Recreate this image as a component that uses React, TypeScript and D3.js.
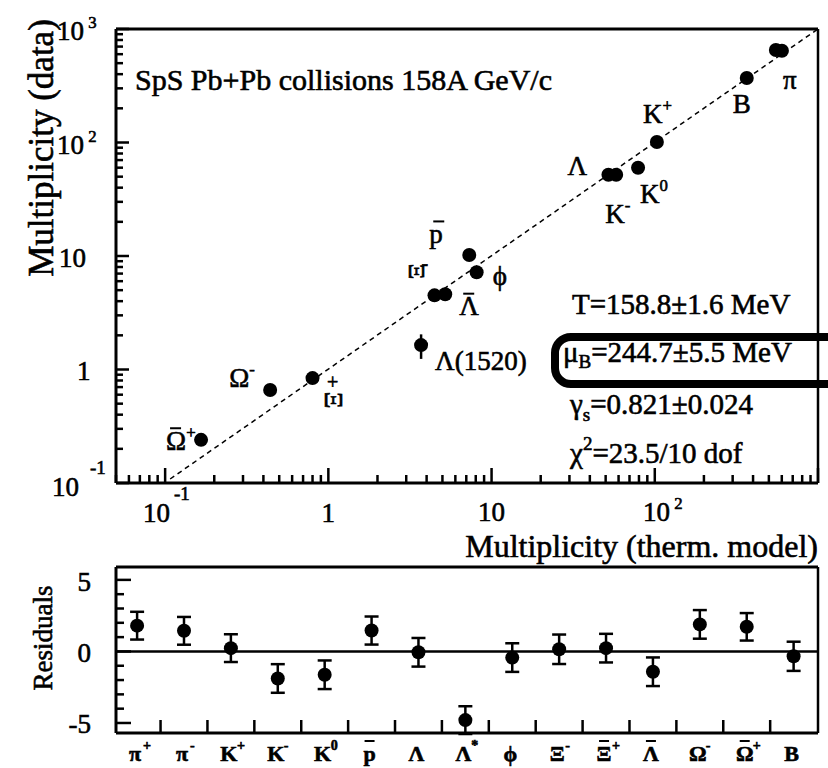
import React from "react";
import * as d3 from "d3";

// particle species, same order in both panels (bar = antiparticle)
const species = ["π", "π", "K", "K", "K", "p", "Λ", "Λ", "ϕ", "Ξ", "Ξ", "Λ", "Ω", "Ω", "B"];
const speciesSup = ["+", "-", "+", "-", "0", "", "", "*", "", "-", "+", "", "-", "+", ""];
const speciesBar = [false, false, false, false, false, true, false, false, false, false, true, true, false, true, false];

// upper panel: thermal model vs measured multiplicity
const modelMult = [552, 601, 103, 58, 79, 7.3, 52, 3.7, 8.1, 4.47, 0.8, 5.2, 0.44, 0.166, 366];
const dataMult = [653, 643, 101, 52, 60, 10.2, 52, 1.64, 7.2, 4.5, 0.84, 4.6, 0.66, 0.24, 370];
const dataErr = [0, 0, 0, 0, 6, 0, 0, 0.4, 0, 0, 0, 0, 0, 0, 0];

// lower panel residuals
const residuals = [1.8, 1.44, 0.23, -1.89, -1.63, 1.46, -0.06, -4.8, -0.43, 0.15, 0.23, -1.42, 1.89, 1.72, -0.34];
const residualErr = [0.97, 0.97, 0.97, 1.0, 1.0, 0.98, 1.0, 0.97, 1.0, 1.03, 1.0, 1.0, 1.0, 0.96, 1.02];

const fitParams = ["T=158.8±1.6 MeV", "=244.7±5.5 MeV", "=0.821±0.024", "=23.5/10 dof"];

const FONT = "'Liberation Serif', 'DejaVu Serif', serif";
// scanned print looks heavy, thicken the glyphs a bit
const INK = { fill: "#000", stroke: "#000", strokeWidth: 0.6 };

// label placement in the upper panel (pixel offsets from the marker)
const labelPos: Record<number, { dx: number; dy: number; text: string; sup?: string; bar?: boolean }> = {
    1: { dx: 1, dy: 38, text: "π" },
    14: { dx: -14, dy: 35, text: "B" },
    2: { dx: -14, dy: -19, text: "K", sup: "+" },
    3: { dx: -11, dy: 48, text: "K", sup: "-" },
    4: { dx: 2, dy: 35, text: "K", sup: "0" },
    6: { dx: -41, dy: 0, text: "Λ" },
    5: { dx: -40, dy: -12, text: "p", bar: true },
    8: { dx: 16, dy: 13, text: "ϕ" },
    11: { dx: 14, dy: 21, text: "Λ", bar: true },
    7: { dx: 14, dy: 25, text: "Λ(1520)" },
    12: { dx: -41, dy: -3, text: "Ω", sup: "-" },
    13: { dx: -35, dy: 10, text: "Ω", sup: "+", bar: true },
};

const App: React.FC = () => {
    const width = 828;
    const height = 768;

    const left = 116;
    const right = 818;

    const x = d3.scaleLog().domain([0.05, 1000]).range([left, right]);
    const y = d3.scaleLog().domain([0.1, 1000]).range([483, 29]);

    const xr = d3.scaleLinear().domain([-0.45, 14.52]).range([left, right]);
    const yr = d3.scaleLinear().domain([-5.7, 5.9]).range([733, 567]);

    // log ticks
    const logTicks = (lo: number, hi: number) => {
        const out: { v: number; major: boolean }[] = [];
        for (let e = -2; e <= 3; e++) {
            for (let m = 1; m <= 9; m++) {
                const v = m * Math.pow(10, e);
                if (v >= lo * 0.999 && v <= hi * 1.001) out.push({ v, major: m === 1 });
            }
        }
        return out;
    };
    const xTicks = logTicks(0.05, 1000);
    const yTicks = logTicks(0.1, 1000);

    const diag = [0.1, 1000];

    const supText = (base: string, sup: string, size: number) => (
        <>
            {base}
            <tspan dy={-size * 0.45} fontSize={size * 0.62}>{sup}</tspan>
        </>
    );

    const lbl = 27;

    return (
        <svg
            width={width}
            height={height}
            style={{ position: "absolute", left: 0, top: 0, background: "#fff", fontFamily: FONT }}
        >
            {/* ===== upper panel ===== */}
            <line x1={left} x2={right} y1={29} y2={29} stroke="#000" strokeWidth={3} />
            <line x1={right} x2={right} y1={29} y2={483} stroke="#000" strokeWidth={2.5} />
            <line x1={left} x2={left} y1={29} y2={483} stroke="#000" strokeWidth={3} />
            <line x1={left} x2={right} y1={483} y2={483} stroke="#000" strokeWidth={3} />

            {yTicks.map((t, i) => (
                <line key={"yt" + i} x1={left} x2={left + (t.major ? 13 : 7)} y1={y(t.v)} y2={y(t.v)} stroke="#000" strokeWidth={2.5} />
            ))}
            {xTicks.map((t, i) => (
                <line key={"xt" + i} x1={x(t.v)} x2={x(t.v)} y1={483} y2={483 - (t.major ? 15 : 8)} stroke="#000" strokeWidth={2.5} />
            ))}

            {/* y tick labels */}
            <g fontSize={27} {...INK}>
                <text x={57} y={40}>{supText("10", " 3", 27)}</text>
                <text x={57} y={154}>{supText("10", " 2", 27)}</text>
                <text x={59} y={267}>10</text>
                <text x={77} y={380}>1</text>
                <text x={90} y={474} fontSize={19}>-1</text>
                <text x={52} y={496}>10</text>
            </g>
            {/* x tick labels */}
            <g fontSize={27} {...INK}>
                <text x={143} y={522}>10</text>
                <text x={174} y={500} fontSize={19}>-1</text>
                <text x={x(1)} y={522} textAnchor="middle">1</text>
                <text x={x(10)} y={521} textAnchor="middle">10</text>
                <text x={643} y={521}>{supText("10", " 2", 27)}</text>
            </g>

            {/* axis titles */}
            <text transform="translate(53,148) rotate(-90)" textAnchor="middle" fontSize={35} {...INK}>
                Multiplicity (data)
            </text>
            <text x={818} y={557} textAnchor="end" fontSize={32} {...INK}>
                Multiplicity (therm. model)
            </text>

            <text x={135} y={90} fontSize={30} {...INK}>
                SpS Pb+Pb collisions 158A GeV/c
            </text>

            {/* y = x line */}
            <line
                x1={x(diag[0]) + 5}
                y1={y(diag[0]) - 4}
                x2={x(diag[1])}
                y2={y(diag[1])}
                stroke="#000"
                strokeWidth={1.5}
                strokeDasharray="5,4"
            />

            {/* markers */}
            {modelMult.map((m, i) => (
                <g key={"p" + i}>
                    {dataErr[i] > 0 && (
                        <line
                            x1={x(m)}
                            x2={x(m)}
                            y1={y(dataMult[i] + dataErr[i])}
                            y2={y(dataMult[i] - dataErr[i])}
                            stroke="#000"
                            strokeWidth={2.5}
                        />
                    )}
                    <circle cx={x(m)} cy={y(dataMult[i])} r={7} fill="#000" />
                </g>
            ))}

            {/* particle labels */}
            <g fontSize={lbl} {...INK}>
                {Object.entries(labelPos).map(([k, p]) => {
                    const i = +k;
                    const px = x(modelMult[i]) + p.dx;
                    const py = y(dataMult[i]) + p.dy;
                    return (
                        <g key={"l" + k}>
                            <text x={px} y={py}>
                                {p.sup ? supText(p.text, p.sup, lbl) : p.text}
                            </text>
                            {p.bar && (
                                <line x1={px + 4} x2={px + 15} y1={py - lbl * 0.8} y2={py - lbl * 0.8} strokeWidth={2} />
                            )}
                        </g>
                    );
                })}
                {/* rotated Xi glyphs as in the scan */}
                <text
                    transform={`translate(${x(modelMult[9]) - 25},${y(dataMult[9]) - 24}) rotate(90)`}
                    textAnchor="middle"
                    fontSize={24}
                >
                    Ξ
                </text>
                <text x={x(modelMult[9]) - 13} y={y(dataMult[9]) - 25} fontSize={20}>-</text>
                <text
                    transform={`translate(${x(modelMult[10]) + 12},${y(dataMult[10]) + 22}) rotate(90)`}
                    textAnchor="middle"
                    fontSize={26}
                >
                    Ξ
                </text>
                <text x={x(modelMult[10]) + 20} y={y(dataMult[10]) + 11} fontSize={20} textAnchor="middle">+</text>
            </g>

            {/* fit parameters */}
            <g fontSize={29} {...INK}>
                <text x={572} y={314}>{fitParams[0]}</text>
                <text x={563} y={362}>
                    μ<tspan dy={6} fontSize={19}>B</tspan>
                    <tspan dy={-6}>{fitParams[1]}</tspan>
                </text>
                <text x={570} y={414}>
                    γ<tspan dy={7} fontSize={19}>s</tspan>
                    <tspan dy={-7}>{fitParams[2]}</tspan>
                </text>
                <text x={570} y={463}>
                    χ<tspan dy={-13} fontSize={19}>2</tspan>
                    <tspan dy={13}>{fitParams[3]}</tspan>
                </text>
            </g>
            <rect x={555} y={337} width={300} height={47} rx={16} fill="none" stroke="#000" strokeWidth={8} />

            {/* ===== residuals panel ===== */}
            <line x1={left} x2={right} y1={567} y2={567} stroke="#000" strokeWidth={3} />
            <line x1={right} x2={right} y1={567} y2={733} stroke="#000" strokeWidth={2.5} />
            <line x1={left} x2={left} y1={567} y2={733} stroke="#000" strokeWidth={3} />
            <line x1={left} x2={right} y1={733} y2={733} stroke="#000" strokeWidth={3} />
            <line x1={left} x2={right} y1={yr(0)} y2={yr(0)} stroke="#000" strokeWidth={2.5} />

            {d3.range(-5, 6).map(v => (
                <line key={"rt" + v} x1={left} x2={left + (v % 5 === 0 ? 15 : 8)} y1={yr(v)} y2={yr(v)} stroke="#000" strokeWidth={2.5} />
            ))}
            {d3.range(0, 14).map(i => (
                <line key={"rx" + i} x1={xr(i + 0.5)} x2={xr(i + 0.5)} y1={733} y2={720} stroke="#000" strokeWidth={2.5} />
            ))}

            <g fontSize={27} {...INK} textAnchor="end">
                <text x={91} y={591}>5</text>
                <text x={91} y={662}>0</text>
                <text x={91} y={733}>-5</text>
            </g>
            <text transform="translate(52,638) rotate(-90)" textAnchor="middle" fontSize={27} {...INK}>
                Residuals
            </text>

            {residuals.map((r, i) => {
                const cx = xr(i);
                const y1 = yr(r + residualErr[i]);
                const y2 = yr(r - residualErr[i]);
                return (
                    <g key={"r" + i} stroke="#000" strokeWidth={2.5}>
                        <line x1={cx} x2={cx} y1={y1} y2={y2} />
                        <line x1={cx - 7} x2={cx + 7} y1={y1} y2={y1} />
                        <line x1={cx - 7} x2={cx + 7} y1={y2} y2={y2} />
                        <circle cx={cx} cy={yr(r)} r={7} fill="#000" stroke="none" />
                    </g>
                );
            })}

            {/* category labels */}
            <g fontSize={22} fontWeight="bold" {...INK}>
                {species.map((s, i) => {
                    const cx = xr(i) - 2;
                    return (
                        <g key={"c" + i}>
                            <text x={cx} y={761} textAnchor="middle">{s}</text>
                            {speciesSup[i] && (
                                <text x={cx + 8} y={750} fontSize={14}>{speciesSup[i]}</text>
                            )}
                            {speciesBar[i] && (
                                <line x1={cx - 5} x2={cx + 5} y1={741} y2={741} strokeWidth={2} />
                            )}
                        </g>
                    );
                })}
            </g>
        </svg>
    );
};

export default App;
